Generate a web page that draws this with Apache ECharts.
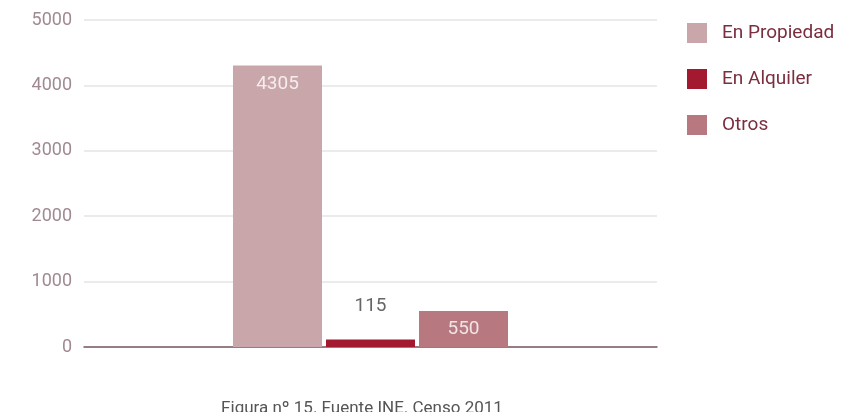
<!DOCTYPE html>
<html>
<head>
<meta charset="utf-8">
<script src="https://cdn.jsdelivr.net/npm/echarts@6/dist/echarts.min.js"></script>
<style>
html,body{margin:0;padding:0;background:#fff;}
#c{width:858px;height:412px;}
</style>
</head>
<body>
<div id="c"></div>
<script>
const categories = [''];
const seriesNames = ['En Propiedad', 'En Alquiler', 'Otros'];
const propiedad = [4305];
const alquiler = [115];
const otros = [550];
const yTicks = [0, 1000, 2000, 3000, 4000, 5000];
const caption = 'Figura nº 15. Fuente INE. Censo 2011';

const colors = ['#c9a6aa', '#a31a30', '#b87880'];
const chart = echarts.init(document.getElementById('c'), null, {renderer: 'canvas'});
const labelInside = {show: true, position: 'insideTop', distance: 9, color: 'rgba(255,255,255,0.8)', fontFamily: 'Roboto', fontSize: 19};
chart.setOption({
  animation: false,
  color: colors,
  textStyle: {fontFamily: 'Roboto'},
  title: {
    text: caption,
    left: 357, top: 395, textAlign: 'center',
    textStyle: {fontFamily: 'Roboto', fontSize: 17, fontWeight: 'normal', color: '#555'}
  },
  grid: {left: 84, right: 201, top: 20, bottom: 65, containLabel: false},
  legend: {
    orient: 'vertical', left: 687, top: 23, padding: 0,
    itemWidth: 20, itemHeight: 20, itemGap: 26,
    icon: 'rect',
    data: seriesNames,
    textStyle: {fontFamily: 'Roboto', fontSize: 19, color: '#7a2e3e', padding: [0, 0, 0, 10]}
  },
  xAxis: {
    type: 'category', data: categories,
    axisLine: {lineStyle: {color: '#7a5a62', width: 1.5}},
    axisTick: {show: false}, axisLabel: {show: false}
  },
  yAxis: {
    type: 'value', min: yTicks[0], max: yTicks[yTicks.length - 1], interval: 1000,
    axisLine: {show: false}, axisTick: {show: false},
    axisLabel: {color: '#a08a90', fontFamily: 'Roboto', fontSize: 18, margin: 12, formatter: v => String(v)},
    splitLine: {lineStyle: {color: '#e4e4e4', width: 1.5}}
  },
  series: [
    {name: seriesNames[0], type: 'bar', data: propiedad, barWidth: 89, barGap: '4.5%', label: labelInside},
    {name: seriesNames[1], type: 'bar', data: alquiler, barWidth: 89, barGap: '4.5%',
     label: {show: true, position: 'top', distance: 24, color: '#666', fontFamily: 'Roboto', fontSize: 19}},
    {name: seriesNames[2], type: 'bar', data: otros, barWidth: 89, barGap: '4.5%', label: labelInside}
  ]
});
</script>
</body>
</html>
